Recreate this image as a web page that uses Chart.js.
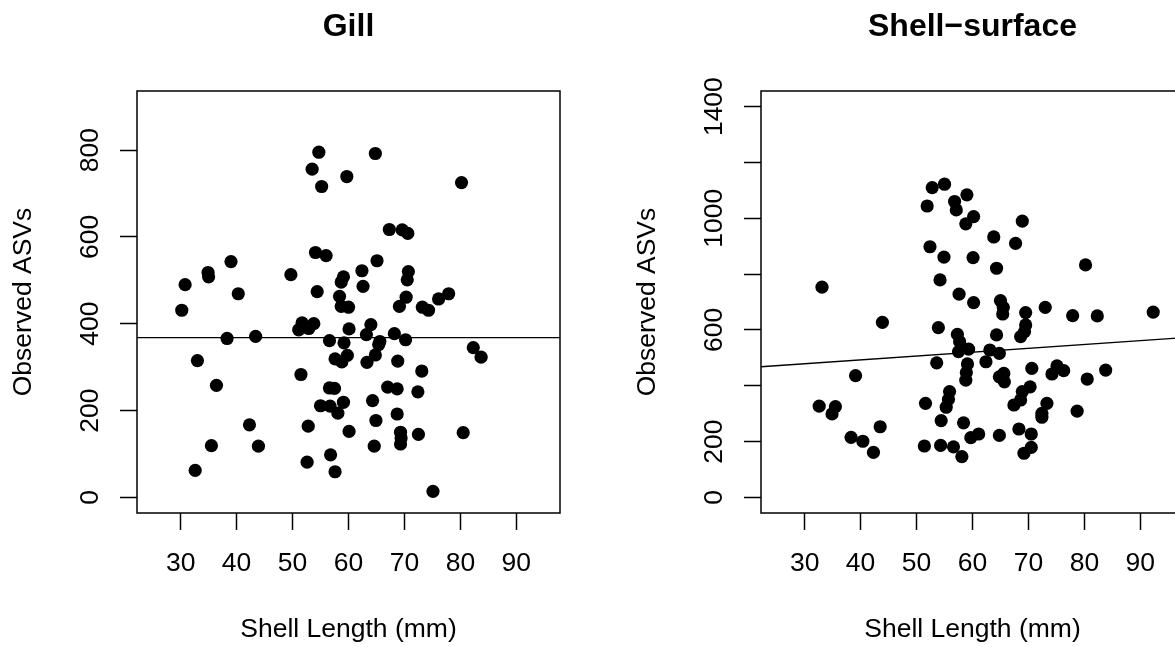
<!DOCTYPE html>
<html>
<head>
<meta charset="utf-8">
<title>Observed ASVs vs shell length</title>
<script src="https://cdn.jsdelivr.net/npm/chart.js@4.4.1/dist/chart.umd.min.js"></script>
<style>
  html, body { margin: 0; padding: 0; background: #fff; }
  body { width: 1175px; height: 647px; overflow: hidden; position: relative; }
  canvas { position: absolute; top: 0; }
  #gillChart { left: 0; }
  #shellChart { left: 624px; }
</style>
</head>
<body>
<canvas id="gillChart" width="624" height="647"></canvas>
<canvas id="shellChart" width="624" height="647"></canvas>
<script>
// Shell length (mm) and observed ASVs per sample, one pair of arrays per tissue
const gillLength = [54.7, 64.8, 53.5, 59.7, 55.2, 80.2, 67.3, 69.6, 70.6, 54.1, 56.0, 65.1, 39.0, 34.9, 35.0,
  30.8, 49.7, 62.4, 70.7, 59.1, 58.7, 70.5, 62.6, 54.4, 40.3, 58.4, 70.3, 77.9, 76.1, 58.7, 60.0, 69.1, 73.2,
  74.3, 30.2, 51.7, 53.8, 51.1, 52.9, 60.1, 64.0, 63.2, 68.2, 70.2, 38.3, 43.4, 56.6, 59.2, 65.6, 65.4, 82.3,
  83.7, 33.0, 59.8, 57.6, 58.8, 64.8, 63.3, 68.8, 73.1, 51.5, 36.4, 56.6, 57.5, 67.0, 68.7, 72.4, 55.0, 56.7,
  59.1, 58.1, 64.3, 68.7, 64.9, 42.3, 52.8, 60.1, 69.3, 69.4, 69.3, 72.5, 80.5, 35.5, 43.9, 64.6, 56.8, 52.6,
  32.6, 57.6, 75.1];
const gillAsvs = [795, 792, 756, 739, 716, 725, 617, 616, 608, 564, 557, 545, 543, 518, 508,
  490, 513, 522, 520, 508, 496, 501, 486, 474, 469, 463, 461, 469, 457, 440, 438, 440, 438,
  431, 431, 402, 400, 386, 389, 388, 398, 375, 377, 363, 366, 371, 361, 356, 359, 352, 345,
  323, 315, 327, 319, 312, 328, 311, 314, 291, 283, 258, 252, 251, 254, 250, 243, 211, 210,
  219, 194, 223, 192, 177, 167, 164, 152, 150, 137, 123, 145, 149, 119, 118, 118, 98, 81,
  62, 59, 14];

const shellLength = [33.1, 52.8, 55.0, 51.9, 56.8, 57.1, 59.0, 60.2, 58.8, 68.9, 63.8, 67.7, 52.4, 54.9, 60.1,
  64.3, 80.2, 54.2, 57.6, 60.2, 65.0, 65.5, 65.4, 69.5, 73.0, 77.9, 82.3, 92.3, 43.9, 53.9, 57.3, 64.3, 69.5,
  69.3, 68.6, 57.7, 57.5, 59.3, 63.1, 64.8, 62.4, 53.6, 59.1, 58.9, 58.8, 39.1, 65.6, 64.8, 65.7, 70.6, 74.2,
  75.1, 76.3, 80.5, 83.8, 55.9, 55.7, 55.3, 70.3, 68.9, 68.6, 67.4, 73.3, 72.4, 72.4, 78.7, 51.6, 32.6, 35.5,
  34.9, 54.4, 58.4, 68.3, 70.5, 43.5, 38.3, 40.4, 42.3, 51.4, 54.3, 56.6, 58.1, 59.7, 61.1, 64.8, 70.5, 69.2];
const shellAsvs = [753, 1110, 1122, 1044, 1060, 1030, 1084, 1006, 980, 990, 933, 910, 898, 861, 859,
  821, 833, 779, 728, 698, 705, 681, 657, 662, 681, 651, 650, 664, 627, 608, 584, 582, 618,
  594, 576, 558, 522, 531, 528, 516, 486, 482, 478, 447, 420, 436, 444, 432, 414, 462, 442,
  471, 454, 424, 456, 379, 351, 323, 396, 379, 349, 331, 337, 301, 287, 309, 337, 327, 325,
  299, 275, 267, 245, 227, 253, 215, 201, 161, 184, 186, 181, 146, 214, 227, 222, 179, 158];

// Linear fits (intercept, slope) drawn across each panel
const gillFit = [368, 0];
const shellFit = [437.4, 1.377];

// Axis limits, tick marks and the ticks that carry a label
const xLimits = [25, 95];
const xTicks = [30, 40, 50, 60, 70, 80, 90];
const gillYLimits = [0, 900];
const gillYTicks = [0, 200, 400, 600, 800];
const gillYLabels = [0, 200, 400, 600, 800];
const shellYLimits = [0, 1400];
const shellYTicks = [0, 200, 400, 600, 800, 1000, 1200, 1400];
const shellYLabels = [0, 200, 600, 1000, 1400];

Chart.defaults.font.family = "'Liberation Sans', Arial, Helvetica, sans-serif";
Chart.defaults.color = '#000';

// pad the limits by 4% each side like base R plots do
function padRange(lim) {
  const d = (lim[1] - lim[0]) * 0.04;
  return [lim[0] - d, lim[1] + d];
}

// frame around the plotting region
const plotBox = {
  id: 'plotBox',
  afterDatasetsDraw(chart) {
    const { ctx, chartArea: a } = chart;
    ctx.save();
    ctx.strokeStyle = '#000';
    ctx.lineWidth = 1.5;
    ctx.strokeRect(a.left, a.top, a.right - a.left, a.bottom - a.top);
    ctx.restore();
  }
};

function makePanel(canvasId, title, xs, ys, yLimits, yTicks, yLabels, fit, yTickPad) {
  const xr = padRange(xLimits);
  const yr = padRange(yLimits);
  const points = xs.map((x, i) => ({ x: x, y: ys[i] }));
  const fitLine = xr.map(x => ({ x: x, y: fit[0] + fit[1] * x }));

  return new Chart(document.getElementById(canvasId), {
    type: 'scatter',
    data: {
      datasets: [
        {
          data: points,
          pointRadius: 6.6,
          pointBackgroundColor: '#000',
          pointBorderWidth: 0
        },
        {
          type: 'line',
          data: fitLine,
          borderColor: '#000',
          borderWidth: 1.3,
          pointRadius: 0,
          fill: false
        }
      ]
    },
    options: {
      responsive: false,
      animation: false,
      events: [],
      layout: { padding: { left: 0, right: 64, top: 0, bottom: 0 } },
      plugins: {
        legend: { display: false },
        tooltip: { enabled: false },
        title: {
          display: true,
          text: title,
          fullSize: false,
          font: { size: 32, weight: 'bold' },
          padding: { top: 8, bottom: 44.6 }
        }
      },
      scales: {
        x: {
          type: 'linear',
          min: xr[0],
          max: xr[1],
          border: { display: false },
          grid: { drawOnChartArea: false, drawTicks: true, tickLength: 17, tickColor: '#000', tickWidth: 1.5 },
          ticks: { font: { size: 26.5 }, padding: 18, maxRotation: 0, autoSkip: false, callback: v => String(v) },
          afterBuildTicks: s => { s.ticks = xTicks.map(v => ({ value: v })); },
          afterFit: s => { s.height = 134; },
          title: { display: true, text: 'Shell Length (mm)', font: { size: 26.5 }, padding: { top: 0, bottom: 1 } }
        },
        y: {
          type: 'linear',
          min: yr[0],
          max: yr[1],
          border: { display: false },
          grid: { drawOnChartArea: false, drawTicks: true, tickLength: 17, tickColor: '#000', tickWidth: 1.5 },
          ticks: {
            font: { size: 26.5 },
            padding: yTickPad,
            minRotation: 90,
            maxRotation: 90,
            crossAlign: 'center',
            autoSkip: false,
            callback: v => (yLabels.includes(v) ? String(v) : '')
          },
          afterBuildTicks: s => { s.ticks = yTicks.map(v => ({ value: v })); },
          afterFit: s => { s.width = 137; },
          title: { display: true, text: 'Observed ASVs', font: { size: 26.5 }, padding: { top: 8, bottom: 0 } }
        }
      }
    },
    plugins: [plotBox]
  });
}

makePanel('gillChart', 'Gill', gillLength, gillAsvs, gillYLimits, gillYTicks, gillYLabels, gillFit, 7);
makePanel('shellChart', 'Shell\u2212surface', shellLength, shellAsvs, shellYLimits, shellYTicks, shellYLabels, shellFit, 0);
</script>
</body>
</html>
